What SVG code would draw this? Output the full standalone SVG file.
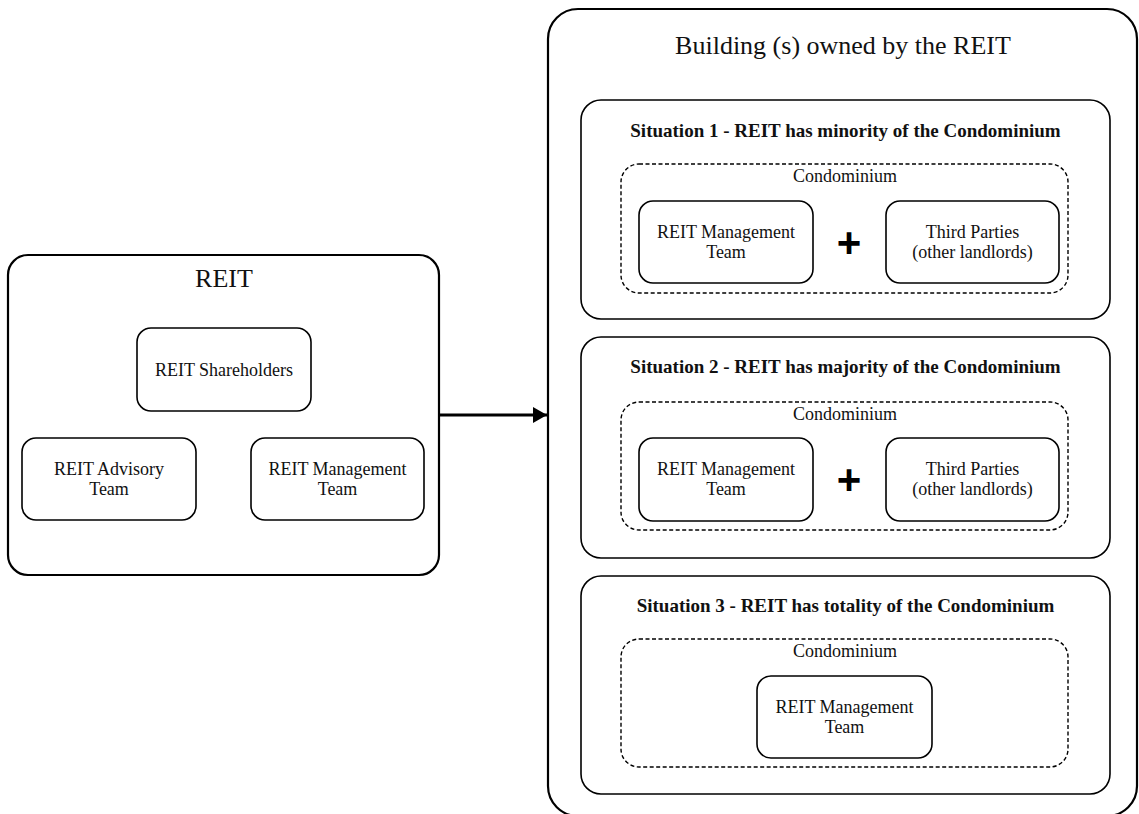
<svg xmlns="http://www.w3.org/2000/svg" width="1139" height="814" viewBox="0 0 1139 814">
<defs>
<style>
.outer{fill:#fff;stroke:#000;stroke-width:2.2}
.sit{fill:#fff;stroke:#000;stroke-width:1.6}
.dash{fill:none;stroke:#000;stroke-width:1.4;stroke-dasharray:4 2.5}
.box{fill:#fff;stroke:#000;stroke-width:1.6}
.t{font-family:"Liberation Serif","Times New Roman",serif;font-size:18px;fill:#111;text-anchor:middle}
.big{font-family:"Liberation Serif","Times New Roman",serif;font-size:26px;fill:#111;text-anchor:middle}
.bold{font-family:"Liberation Serif","Times New Roman",serif;font-size:19px;font-weight:bold;fill:#111;text-anchor:middle}
.plus{font-family:"Liberation Sans",Arial,sans-serif;font-size:42px;font-weight:bold;fill:#000;text-anchor:middle}
.conn{stroke:#000;stroke-width:3;fill:none}
</style>
<marker id="arr" viewBox="0 0 14 16" refX="14" refY="8" markerWidth="14" markerHeight="16" markerUnits="userSpaceOnUse" orient="auto">
<path d="M0,0 L14,8 L0,16 Z" fill="#000"/>
</marker>
</defs>
<rect width="1139" height="814" fill="#fff"/>

<g id="reit">
<rect class="outer" x="8" y="255" width="431" height="320" rx="20"/>
<text class="big" x="224" y="287">REIT</text>
</g>
<g id="reit-shareholders">
<rect class="box" x="137" y="328" width="174" height="83" rx="14"/>
<text class="t" x="224" y="376">REIT Shareholders</text>
</g>
<g id="reit-advisory">
<rect class="box" x="22" y="438" width="174" height="82" rx="14"/>
<text class="t" x="109" y="475">REIT Advisory</text>
<text class="t" x="109" y="495">Team</text>
</g>
<g id="reit-management">
<rect class="box" x="251" y="438" width="173" height="82" rx="14"/>
<text class="t" x="337.5" y="475">REIT Management</text>
<text class="t" x="337.5" y="495">Team</text>
</g>

<g id="building">
<rect class="outer" x="548" y="9" width="589" height="807" rx="30"/>
<text class="big" x="843" y="54">Building (s) owned by the REIT</text>
</g>

<g id="situation1">
<rect class="sit" x="581" y="100" width="529" height="219" rx="20"/>
<text class="bold" x="845.5" y="137">Situation 1 - REIT has minority of the Condominium</text>
<rect class="dash" x="621" y="164" width="447" height="129" rx="18"/>
<text class="t" x="845" y="182">Condominium</text>
</g>
<g id="s1-management">
<rect class="box" x="639" y="201" width="174" height="82" rx="14"/>
<text class="t" x="726" y="238">REIT Management</text>
<text class="t" x="726" y="258">Team</text>
</g>
<g id="s1-plus"><text class="plus" x="849" y="257">+</text></g>
<g id="s1-third">
<rect class="box" x="886" y="201" width="173" height="82" rx="14"/>
<text class="t" x="972.5" y="238">Third Parties</text>
<text class="t" x="972.5" y="258">(other landlords)</text>
</g>

<g id="situation2">
<rect class="sit" x="581" y="337" width="529" height="221" rx="20"/>
<text class="bold" x="845.5" y="373">Situation 2 - REIT has majority of the Condominium</text>
<rect class="dash" x="621" y="402" width="447" height="128" rx="18"/>
<text class="t" x="845" y="420">Condominium</text>
</g>
<g id="s2-management">
<rect class="box" x="639" y="438" width="174" height="83" rx="14"/>
<text class="t" x="726" y="475">REIT Management</text>
<text class="t" x="726" y="495">Team</text>
</g>
<g id="s2-plus"><text class="plus" x="849" y="494">+</text></g>
<g id="s2-third">
<rect class="box" x="886" y="438" width="173" height="83" rx="14"/>
<text class="t" x="972.5" y="475">Third Parties</text>
<text class="t" x="972.5" y="495">(other landlords)</text>
</g>

<g id="situation3">
<rect class="sit" x="581" y="576" width="529" height="218" rx="20"/>
<text class="bold" x="845.5" y="612">Situation 3 - REIT has totality of the Condominium</text>
<rect class="dash" x="621" y="639" width="447" height="128" rx="18"/>
<text class="t" x="845" y="657">Condominium</text>
</g>
<g id="s3-management">
<rect class="box" x="757" y="676" width="175" height="82" rx="14"/>
<text class="t" x="844.5" y="713">REIT Management</text>
<text class="t" x="844.5" y="733">Team</text>
</g>

<g id="connectors">
<line class="conn" x1="439" y1="415" x2="547" y2="415" marker-end="url(#arr)"/>
</g>
</svg>
